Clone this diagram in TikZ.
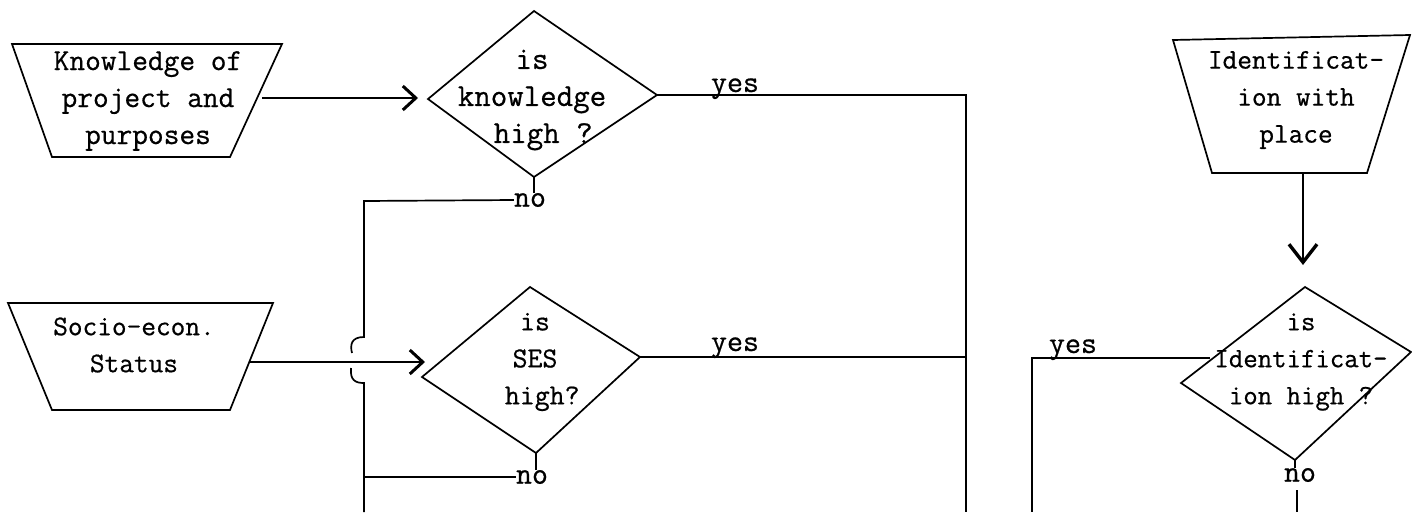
\documentclass[tikz,border=0pt]{standalone}
\usepackage{fontspec}
\newfontfamily\typer{Latin Modern Mono}[FakeBold=0.6]
\usetikzlibrary{arrows.meta}
\begin{document}
\begin{tikzpicture}[x=1pt,y=-1pt,
  outline/.style={line width=1.7pt, line join=miter},
  wire/.style={line width=1.7pt},
  flow/.style={wire, -{Straight Barb[length=13pt,width=24pt,line width=3pt]}},
  downflow/.style={wire, -{Straight Barb[length=18pt,width=28pt,line width=3.4pt]}},
  txt/.style={font=\typer\fontsize{#1}{37}\selectfont, inner sep=0pt, align=center},
  txt/.default=28,
  word/.style={font=\typer\fontsize{31}{37}\selectfont, inner sep=0pt}
]
\fill[white] (0,0) rectangle (1412,512);
\useasboundingbox (0,0) rectangle (1412,512);

% ---- input: knowledge of project ----
\coordinate (k1) at (12,44);  \coordinate (k2) at (282,44);
\coordinate (k3) at (230,157); \coordinate (k4) at (52,157);
\draw[outline] (k1) -- (k2) -- (k3) -- (k4) -- cycle;
\node[txt=30.5] (ktext) at (148,101) {Knowledge of\\project and\\purposes};
\coordinate (kout) at (262,98);

% ---- decision: is knowledge high? ----
\coordinate (d1w) at (428,99);  \coordinate (d1n) at (534,11);
\coordinate (d1e) at (657,95);  \coordinate (d1s) at (534,177);
\draw[outline] (d1w) -- (d1n) -- (d1e) -- (d1s) -- cycle;
\node[txt=32] (d1text) at (532,100) {is\\knowledge\\\hspace*{0.7em}high ?};
\coordinate (d1in) at (418,98);
\node[word] (d1no) at (530,200) {no};
\node[word, anchor=base] (d1yes) at (735,92) {yes};

% ---- input: socio-economic status ----
\coordinate (s1) at (8,303);   \coordinate (s2) at (273,303);
\coordinate (s3) at (230,410); \coordinate (s4) at (52,410);
\draw[outline] (s1) -- (s2) -- (s3) -- (s4) -- cycle;
\node[txt=28.5] (stext) at (134,345) {Socio-econ.\\Status};
\coordinate (sout) at (250,362);

% ---- decision: is SES high? ----
\coordinate (d2w) at (422,377); \coordinate (d2n) at (530,287);
\coordinate (d2e) at (640,357); \coordinate (d2s) at (536,453);
\draw[outline] (d2w) -- (d2n) -- (d2e) -- (d2s) -- cycle;
\node[txt=29] (d2text) at (535,362) {is\\SES\\\hspace*{0.5em}high?};
\coordinate (d2in) at (425,362);
\node[word] (d2no) at (532,477) {no};
\node[word, anchor=base] (d2yes) at (735,351) {yes};

% ---- input: identification with place ----
\coordinate (i1) at (1173,40);  \coordinate (i2) at (1410,35);
\coordinate (i3) at (1367,173); \coordinate (i4) at (1212,173);
\draw[outline] (i1) -- (i2) -- (i3) -- (i4) -- cycle;
\node[txt=28.5] (itext) at (1296,100) {Identificat-\\ion with\\place};
\coordinate (iout) at (1303,173);

% ---- decision: is identification high? ----
\coordinate (d3w) at (1181,383); \coordinate (d3n) at (1305,287);
\coordinate (d3e) at (1411,352); \coordinate (d3s) at (1295,460);
\draw[outline] (d3w) -- (d3n) -- (d3e) -- (d3s) -- cycle;
\node[txt=28] (d3text) at (1301,362) {is\\Identificat-\\ion high ?};
\coordinate (d3in) at (1303,265);
\coordinate (d3out) at (1210,358);
\node[word] (d3no) at (1300,475) {no};
\node[word, anchor=base] (d3yes) at (1073,353) {yes};

% ---- collecting lines and exits ----
\coordinate (jtop) at (364,201);
\coordinate (bumpup) at (364,337);
\coordinate (bumpdown) at (364,383);
\coordinate (exitA) at (364,512);
\coordinate (riseB) at (966,97);
\coordinate (exitB) at (966,512);
\coordinate (riseC) at (1032,358);
\coordinate (exitC) at (1032,512);
\coordinate (tailD) at (1297,490);
\coordinate (exitD) at (1297,512);

% ---- connectors ----
\draw[flow] (kout) -- (d1in);
\draw[flow] (sout) -- (d2in);
\draw[downflow] (iout) -- (d3in);

% knowledge: yes / no
\draw[wire] (d1e) -- (d1e -| riseB) -- (exitB);
\draw[wire] (d1s) -- (d1s |- d1no.north);
\draw[wire] (d1no.west) -- (jtop) -- (bumpup)
  .. controls (351,337) and (350,345) .. (352,353);
\draw[wire] (351,368) .. controls (350,380) and (355,383) .. (bumpdown) -- (exitA);

% SES: yes / no
\draw[wire] (d2e) -- (d2e -| riseB);
\draw[wire] (d2s) -- (d2s |- d2no.north);
\draw[wire] (d2no.west) -- (d2no.west -| exitA);

% identification: yes / no
\draw[wire] (d3out) -- (riseC) -- (exitC);
\draw[wire] (d3s) -- (d3s |- d3no.north);
\draw[wire] (tailD) -- (exitD);
\end{tikzpicture}
\end{document}
